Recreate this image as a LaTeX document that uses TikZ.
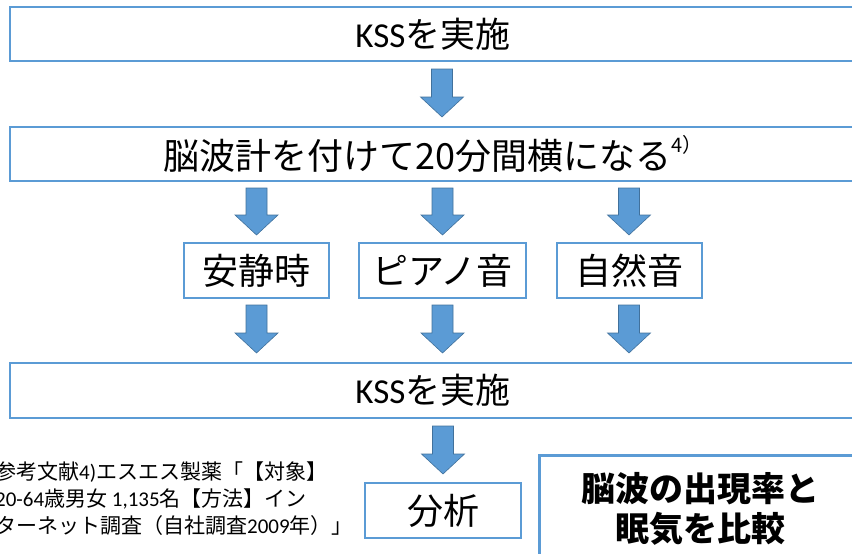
\documentclass[tikz,border=0pt]{standalone}
\usepackage{fontspec}
\setmainfont{Noto Sans CJK JP}
\newfontfamily\lat{Carlito}
\definecolor{acc}{HTML}{5B9BD5}
\definecolor{accd}{HTML}{41719C}
\tikzset{
  flowbox/.style={draw=acc, line width=1.5pt, fill=white, inner sep=0pt, align=center},
  bigtext/.style={font=\fontsize{35}{40}\selectfont},
  arrowfill/.style={fill=acc, draw=accd, line width=0.6pt, line join=miter},
}
\newcommand\blockarrow[3]{% x, top y, tip y
  \filldraw[arrowfill] ({#1-10.5},#2) -- ({#1+10.5},#2) -- ({#1+10.5},{#3-20}) -- ({#1+21.5},{#3-20})
    -- (#1,#3) -- ({#1-21.5},{#3-20}) -- ({#1-10.5},{#3-20}) -- cycle;}
\begin{document}
\begin{tikzpicture}[x=1pt,y=-1pt]
\useasboundingbox (0,0) rectangle (852,554);
\clip (0,0) rectangle (852,554);
% main boxes
\node[flowbox, bigtext, minimum width=846pt, minimum height=54pt] (kssA) at (433,34) {{\lat KSS}を実施};
\node[flowbox, font=\fontsize{36}{40}\selectfont, minimum width=846pt, minimum height=54pt] (brain) at (433,154)
  {脳波計を付けて20分間横になる\raisebox{0.45em}{\fontsize{20}{22}\selectfont 4）}};
\node[flowbox, font=\fontsize{36}{40}\selectfont, minimum width=145pt, minimum height=55pt] (rest) at (256.5,270.5) {安静時};
\node[flowbox, font=\fontsize{36}{40}\selectfont, minimum width=167pt, minimum height=55pt] (piano) at (442.5,270.5) {ピアノ音};
\node[flowbox, font=\fontsize{36}{40}\selectfont, minimum width=145pt, minimum height=55pt] (nature) at (629.5,270.5) {自然音};
\node[flowbox, bigtext, minimum width=846pt, minimum height=55pt] (kssB) at (433,390.5) {{\lat KSS}を実施};
\node[flowbox, font=\fontsize{36}{40}\selectfont, minimum width=156pt, minimum height=55pt] (anal) at (443,510.5) {分析};
\node[flowbox, line width=3pt, minimum width=331pt, minimum height=116pt] (cmpbox) at (704.5,513) {};
\node[font=\fontsize{34}{40}\selectfont\bfseries, align=center] (cmp) at (700,509) {脳波の出現率と\\眠気を比較};
% reference note
\node[anchor=north west, align=left, inner sep=0pt, font=\fontsize{21}{27}\selectfont] (note) at (-5,462)
  {参考文献{\lat 4)}エスエス製薬「【対象】\\{\lat 20-64}歳男女 {\lat 1,135}名【方法】イン\\ターネット調査（自社調査{\lat 2009}年）」};
% arrows
\blockarrow{442}{69}{117}
\blockarrow{256.5}{188}{235}
\blockarrow{442.5}{188}{235}
\blockarrow{629}{188}{235}
\blockarrow{256.5}{305}{353}
\blockarrow{442.5}{305}{353}
\blockarrow{629}{305}{353}
\blockarrow{443}{426}{474}
\end{tikzpicture}
\end{document}
